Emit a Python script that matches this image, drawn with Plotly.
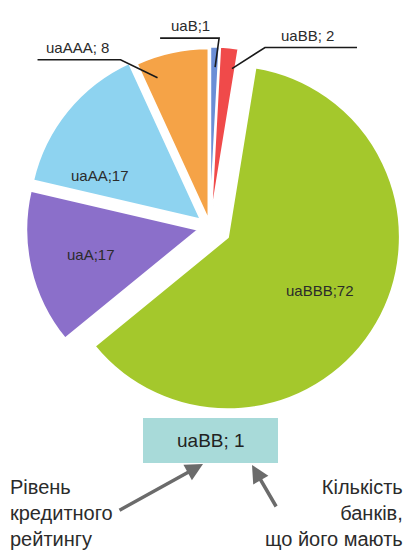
import math
import plotly.graph_objects as go

# ---- data ----
ratings = ["uaBBB", "uaA", "uaAA", "uaAAA", "uaB", "uaBB"]
banks = [72, 17, 17, 8, 1, 2]
colors = ["#a4c82c", "#8b6fca", "#8ed3f0", "#f5a347", "#6b8ed6", "#f04a4a"]
pulls = [0.12, 0.07, 0.07, 0.04, 0.05, 0.05]
outside_labels = {"uaAAA": "uaAAA; 8", "uaB": "uaB;1", "uaBB": "uaBB; 2"}
example_label = "uaBB; 1"
left_note = ["Рівень", "кредитного", "рейтингу"]
right_note = ["Кількість", "банків,", "що його мають"]

W, H = 406, 551
FONT = "Liberation Sans, Arial, sans-serif"
TXT = "#2b2b2b"
ROT = 9.23

# pie placement (pixels): centre and radius
CX, CY, R = 210, 227, 172
half = R * (1 + max(pulls))
dom_x = [(CX - half) / W, (CX + half) / W]
dom_y = [1 - (CY + half) / H, 1 - (CY - half) / H]

fig = go.Figure()
fig.add_trace(go.Pie(
    labels=ratings, values=banks, sort=False, direction="clockwise", rotation=ROT,
    pull=pulls, marker=dict(colors=colors, line=dict(color="white", width=2)),
    textinfo="none",
    domain=dict(x=dom_x, y=dom_y), showlegend=False, hoverinfo="label+value",
))

total = sum(banks)

def px(x, y):
    return x / W, 1 - y / H

# label placement style: (position within slice, radius fraction)
inside_style = {"uaBBB": (0.5, 0.62), "uaA": (0.5, 0.64), "uaAA": (0.2, 0.64)}
# leader-line style per outside label:
# (position within slice, radius fraction, elbow dx, elbow dy, line length, text offset)
leader = {
    "uaAAA": (0.2, 0.88, -37, -18, -83, -43),
    "uaB": (0.6, 0.88, 4, -29, -59, -29),
    "uaBB": (0.8, 0.88, 33, -21, 92, 43),
}

shapes = []
annotations = []
start = ROT
for name, v, p in zip(ratings, banks, pulls):
    span = v / total * 360
    mid = math.radians(start + span / 2)
    s0 = start
    start += span
    ox = CX + p * R * math.sin(mid)
    oy = CY - p * R * math.cos(mid)
    if name not in outside_labels:
        frac, rf = inside_style[name]
        ang = math.radians(s0 + frac * span)
        tx_, ty_ = px(ox + rf * R * math.sin(ang), oy - rf * R * math.cos(ang))
        annotations.append(dict(x=tx_, y=ty_, xref="paper", yref="paper",
                                text=f"{name};{v}", showarrow=False,
                                xanchor="center", yanchor="middle",
                                font=dict(family=FONT, size=15, color=TXT)))
        continue
    frac, rf, edx, edy, llen, toff = leader[name]
    ang = math.radians(s0 + frac * span)
    ax_ = ox + rf * R * math.sin(ang)
    ay_ = oy - rf * R * math.cos(ang)
    ex, ey = ax_ + edx, ay_ + edy
    x1, y1 = px(ax_, ay_)
    x2, y2 = px(ex, ey)
    x3, y3 = px(ex + llen, ey)
    shapes.append(dict(type="path", xref="paper", yref="paper",
                       path=f"M {x1} {y1} L {x2} {y2} L {x3} {y3}",
                       line=dict(color="#1a1a1a", width=1.6)))
    tx_, ty_ = px(ex + toff, ey - 2)
    annotations.append(dict(x=tx_, y=ty_, xref="paper", yref="paper",
                            text=outside_labels[name], showarrow=False,
                            xanchor="center", yanchor="bottom",
                            font=dict(family=FONT, size=15, color=TXT)))

# example box
bx0, by0 = px(143, 418)
bx1, by1 = px(278, 463)
shapes.append(dict(type="rect", xref="paper", yref="paper", x0=bx0, y0=by0, x1=bx1, y1=by1,
                   fillcolor="#a8dad9", line=dict(width=0), layer="below"))
annotations.append(dict(x=(bx0 + bx1) / 2, y=(by0 + by1) / 2, xref="paper", yref="paper",
                        text=example_label, showarrow=False,
                        xanchor="center", yanchor="middle",
                        font=dict(family=FONT, size=19, color="#222222")))

# notes
lx, ly = px(8, 474)
annotations.append(dict(x=lx, y=ly, xref="paper", yref="paper", text="<br>".join(left_note),
                        showarrow=False, xanchor="left", yanchor="top", align="left",
                        font=dict(family=FONT, size=20, color=TXT)))
rx, ry = px(405, 474)
annotations.append(dict(x=rx, y=ry, xref="paper", yref="paper", text="<br>".join(right_note),
                        showarrow=False, xanchor="right", yanchor="top", align="right",
                        font=dict(family=FONT, size=20, color=TXT)))

# arrows
hx1, hy1 = px(203, 464)
annotations.append(dict(x=hx1, y=hy1, xref="paper", yref="paper", text="", showarrow=True,
                        ax=-85, ay=47, arrowhead=2, arrowsize=1, arrowwidth=3.5,
                        arrowcolor="#6b6b6b"))
hx2, hy2 = px(252, 465)
annotations.append(dict(x=hx2, y=hy2, xref="paper", yref="paper", text="", showarrow=True,
                        ax=25, ay=43, arrowhead=2, arrowsize=1, arrowwidth=3.5,
                        arrowcolor="#6b6b6b"))

fig.update_layout(width=W, height=H, margin=dict(l=0, r=0, t=0, b=0),
                  paper_bgcolor="white", plot_bgcolor="white",
                  shapes=shapes, annotations=annotations)
fig.write_html("out.html", config={"displayModeBar": False},
               post_script="document.body.style.margin='0px';")
